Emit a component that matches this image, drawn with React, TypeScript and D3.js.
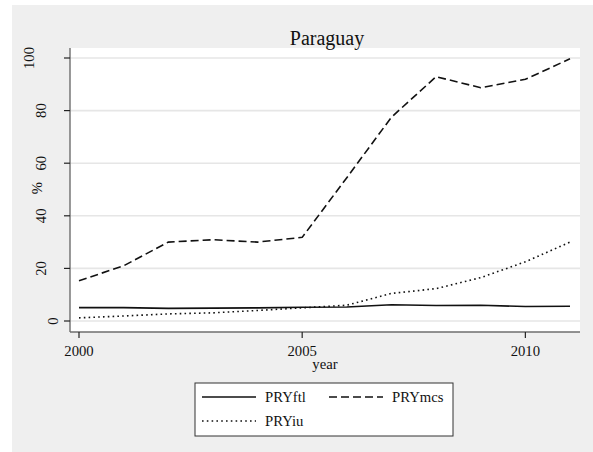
import React from "react";
import * as d3 from "d3";

const years = [2000, 2001, 2002, 2003, 2004, 2005, 2006, 2007, 2008, 2009, 2010, 2011];
const PRYftl = [5.1, 5.1, 4.8, 4.9, 5.0, 5.2, 5.3, 6.2, 5.9, 6.0, 5.5, 5.6];
const PRYmcs = [15.3, 21.0, 30.0, 30.9, 30.0, 31.8, 54.5, 77.5, 92.9, 88.7, 91.9, 99.7];
const PRYiu = [1.2, 1.9, 2.7, 3.1, 4.0, 5.0, 6.0, 10.5, 12.3, 16.5, 22.5, 30.0];
const yTicks = [0, 20, 40, 60, 80, 100];
const xTicks = [2000, 2005, 2010];
const title = "Paraguay";
const xTitle = "year";
const yTitle = "%";

const FONT = "'Liberation Serif', 'Times New Roman', serif";

export default function App() {
  const W = 593, H = 452;
  const plot = { left: 70, right: 580, top: 48, bottom: 332 };
  const x = d3.scaleLinear().domain([2000, 2011]).range([79, 570]);
  const y = d3.scaleLinear().domain([0, 100]).range([321, 58]);

  const line = (vals: number[]) =>
    d3.line<number>().x((_, i) => x(years[i])).y((d) => y(d))(vals) as string;

  const series = [
    { name: "PRYftl", vals: PRYftl, dash: "none" },
    { name: "PRYmcs", vals: PRYmcs, dash: "8,4" },
    { name: "PRYiu", vals: PRYiu, dash: "1.6,3.2" },
  ];

  const lg = { x0: 195, x1: 453, y0: 383, y1: 436 };
  const legendItems = [
    { s: series[0], lx: 202, ly: 397 },
    { s: series[1], lx: 329, ly: 397 },
    { s: series[2], lx: 202, ly: 421 },
  ];

  return (
    <div style={{ position: "absolute", left: 0, top: 0 }}>
      <svg width={W} height={H} style={{ display: "block" }}>
        <rect x={0} y={0} width={W} height={H} fill="#ffffff" />
        <rect x={12} y={5} width={W - 12} height={H - 5} fill="#efefef" />
        <rect x={plot.left} y={plot.top} width={plot.right - plot.left} height={plot.bottom - plot.top} fill="#ffffff" />
        {yTicks.map((t) => (
          <line key={"g" + t} x1={plot.left} x2={plot.right} y1={y(t)} y2={y(t)} stroke="#e6e6e6" strokeWidth={1.6} />
        ))}
        {/* axes */}
        <line x1={plot.left} x2={plot.left} y1={plot.top} y2={plot.bottom} stroke="#6e6e6e" strokeWidth={1.4} />
        <line x1={plot.left} x2={plot.right} y1={plot.bottom} y2={plot.bottom} stroke="#6e6e6e" strokeWidth={1.4} />
        {yTicks.map((t) => {
          const lab = String(t);
          const cx = 52.5 - (lab.length - 1) * 11.7;
          return (
            <g key={"y" + t}>
              <line x1={plot.left - 6} x2={plot.left} y1={y(t)} y2={y(t)} stroke="#222" strokeWidth={1.2} />
              <text
                transform={`translate(${cx},${y(t)}) rotate(-90)`}
                textAnchor="middle"
                dy="0.34em"
                fontFamily={FONT}
                fontSize={14.7}
                fill="#111"
              >
                {lab}
              </text>
            </g>
          );
        })}
        {xTicks.map((t) => (
          <g key={"x" + t}>
            <line x1={x(t)} x2={x(t)} y1={plot.bottom} y2={plot.bottom + 6} stroke="#222" strokeWidth={1.2} />
            <text x={x(t)} y={356} textAnchor="middle" fontFamily={FONT} fontSize={14.7} fill="#111">
              {t}
            </text>
          </g>
        ))}
        <text transform={`translate(37,188) rotate(-90)`} textAnchor="middle" dy="0.34em" fontFamily={FONT} fontSize={14.7} fill="#111">
          {yTitle}
        </text>
        <text x={(plot.left + plot.right) / 2} y={369} textAnchor="middle" fontFamily={FONT} fontSize={14.7} fill="#111">
          {xTitle}
        </text>
        <text x={327} y={45} textAnchor="middle" fontFamily={FONT} fontSize={20} fill="#111">
          {title}
        </text>
        {series.map((s) => (
          <path key={s.name} d={line(s.vals)} fill="none" stroke="#111" strokeWidth={1.6} strokeDasharray={s.dash} />
        ))}
        {/* legend */}
        <rect x={lg.x0} y={lg.y0} width={lg.x1 - lg.x0} height={lg.y1 - lg.y0} fill="#ffffff" stroke="#333" strokeWidth={1} />
        {legendItems.map(({ s, lx, ly }) => (
          <g key={"l" + s.name}>
            <line x1={lx} x2={lx + 54} y1={ly} y2={ly} stroke="#111" strokeWidth={1.6} strokeDasharray={s.dash} />
            <text x={lx + 63} y={ly} dy="0.34em" fontFamily={FONT} fontSize={14.7} fill="#111">
              {s.name}
            </text>
          </g>
        ))}
      </svg>
    </div>
  );
}
